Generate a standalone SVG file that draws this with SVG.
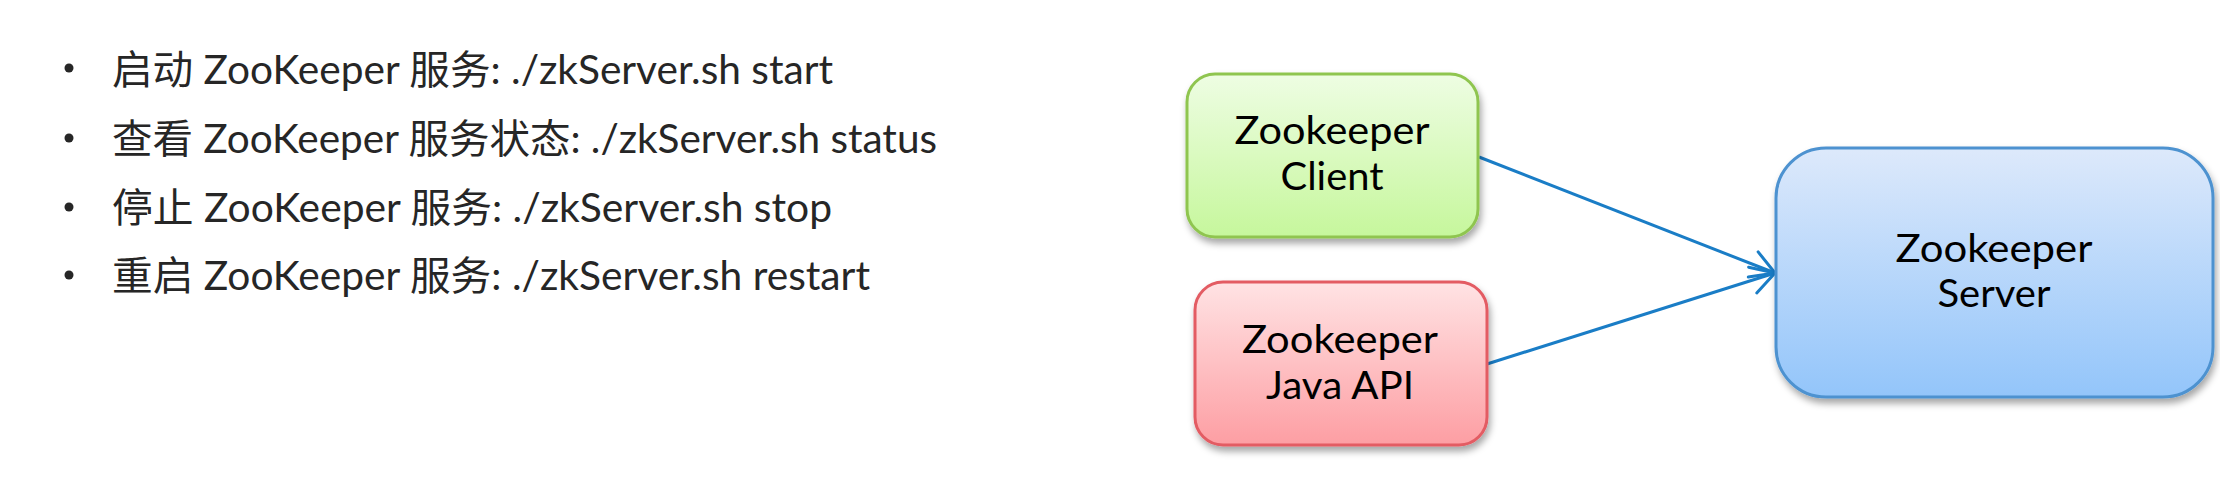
<svg xmlns="http://www.w3.org/2000/svg" width="2220" height="500" viewBox="0 0 2220 500">
<style>
.li{font-family:Lato,"Noto Sans CJK SC",sans-serif;font-size:40px;fill:#262626}
.bul{fill:#262626}
.nt{font-family:Lato,"Noto Sans",sans-serif;font-size:38px;fill:#000;text-anchor:middle}
.edge{stroke:#1a7dc6;stroke-width:3;fill:none}
</style>
<defs>
<linearGradient id="gG" x1="0" y1="0" x2="0" y2="1"><stop offset="0" stop-color="#eefde3"/><stop offset="1" stop-color="#c6f79c"/></linearGradient>
<linearGradient id="gR" x1="0" y1="0" x2="0" y2="1"><stop offset="0" stop-color="#ffe3e4"/><stop offset="1" stop-color="#fd9ea3"/></linearGradient>
<linearGradient id="gB" x1="0" y1="0" x2="0" y2="1"><stop offset="0" stop-color="#dde9fb"/><stop offset="1" stop-color="#93c5fa"/></linearGradient>
<filter id="sh" x="-10%" y="-10%" width="130%" height="140%"><feDropShadow dx="2" dy="5" stdDeviation="3.5" flood-color="#000" flood-opacity="0.35"/></filter>
<marker id="arr" markerUnits="userSpaceOnUse" viewBox="-30 -20 40 40" refX="0" refY="0" markerWidth="40" markerHeight="40" orient="auto" overflow="visible">
<path d="M -23.4 -13.5 L 0 0 L -23.4 13.5" stroke="#1a7dc6" stroke-width="3" fill="none" stroke-linecap="round" stroke-linejoin="round"/>
</marker>
</defs>
<rect width="2220" height="500" fill="#fff"/>
<g id="list">
<circle class="bul" cx="69" cy="68" r="4.5"/>
<text class="li" x="112" y="84" textLength="721" lengthAdjust="spacingAndGlyphs">启动 ZooKeeper 服务: ./zkServer.sh start</text>
<circle class="bul" cx="69" cy="138" r="4.5"/>
<text class="li" x="112" y="153" textLength="825" lengthAdjust="spacingAndGlyphs">查看 ZooKeeper 服务状态: ./zkServer.sh status</text>
<circle class="bul" cx="69" cy="207" r="4.5"/>
<text class="li" x="112" y="222" textLength="720" lengthAdjust="spacingAndGlyphs">停止 ZooKeeper 服务: ./zkServer.sh stop</text>
<circle class="bul" cx="69" cy="275" r="4.5"/>
<text class="li" x="112" y="290" textLength="758" lengthAdjust="spacingAndGlyphs">重启 ZooKeeper 服务: ./zkServer.sh restart</text>
</g>
<g id="connectors">
<line class="edge" x1="1479" y1="157" x2="1775" y2="273" marker-end="url(#arr)"/>
<line class="edge" x1="1487" y1="364" x2="1775" y2="273" marker-end="url(#arr)"/>
</g>
<g id="client">
<rect x="1187" y="74" width="291" height="163" rx="28" fill="url(#gG)" stroke="#8fc550" stroke-width="3" filter="url(#sh)"/>
<text class="nt" x="1332" y="144" textLength="195" lengthAdjust="spacingAndGlyphs">Zookeeper</text>
<text class="nt" x="1332" y="190" textLength="103" lengthAdjust="spacingAndGlyphs">Client</text>
</g>
<g id="javaapi">
<rect x="1195" y="282" width="292" height="163" rx="28" fill="url(#gR)" stroke="#e35b63" stroke-width="3" filter="url(#sh)"/>
<text class="nt" x="1340" y="353" textLength="196" lengthAdjust="spacingAndGlyphs">Zookeeper</text>
<text class="nt" x="1340" y="399" textLength="148" lengthAdjust="spacingAndGlyphs">Java API</text>
</g>
<g id="server">
<rect x="1776" y="148" width="437" height="249" rx="50" fill="url(#gB)" stroke="#4d92d0" stroke-width="3" filter="url(#sh)"/>
<text class="nt" x="1994" y="262" textLength="197" lengthAdjust="spacingAndGlyphs">Zookeeper</text>
<text class="nt" x="1994" y="307" textLength="113" lengthAdjust="spacingAndGlyphs">Server</text>
</g>
</svg>
